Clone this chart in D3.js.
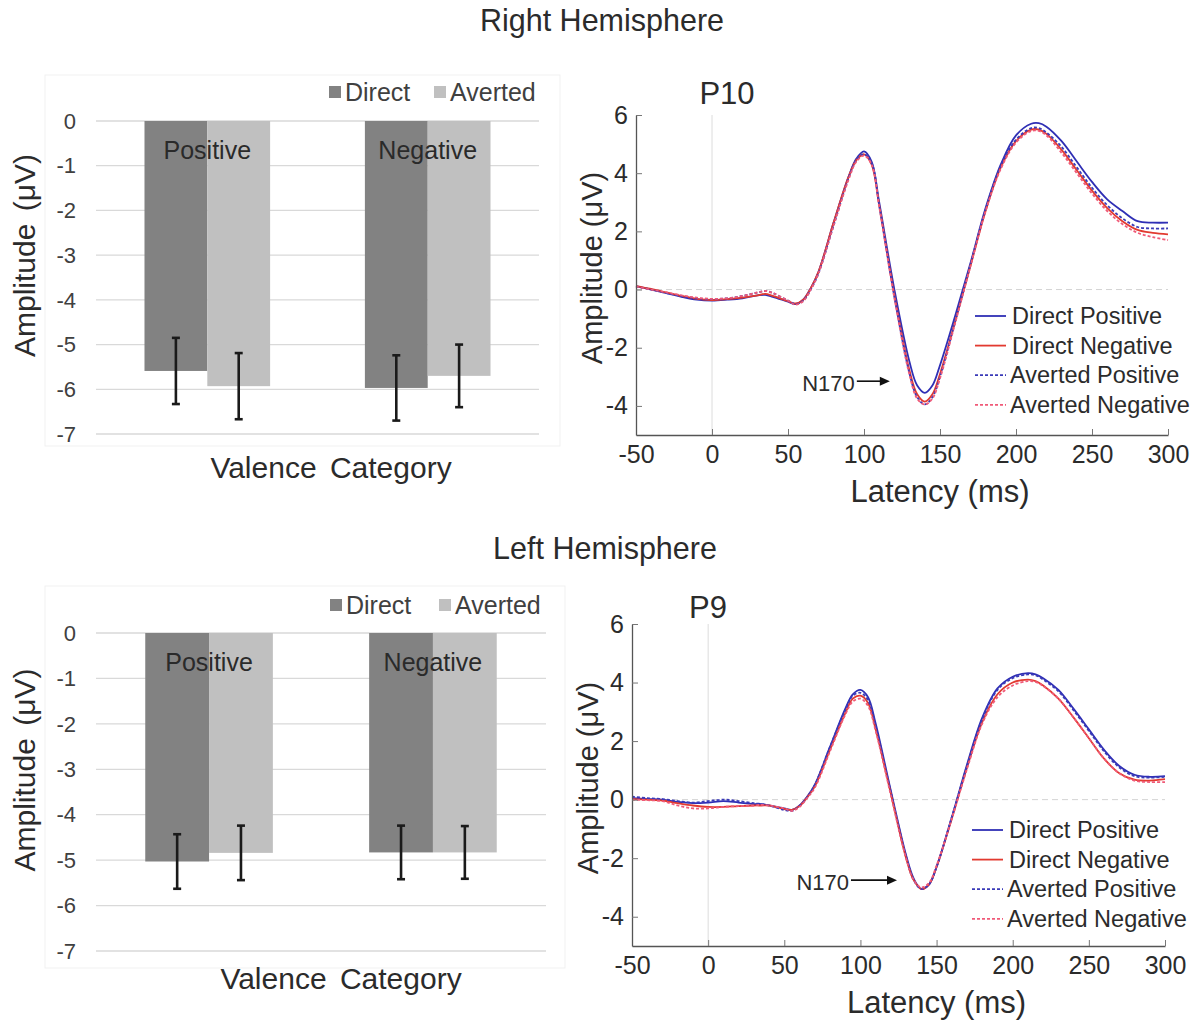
<!DOCTYPE html>
<html>
<head>
<meta charset="utf-8">
<script src="https://cdn.jsdelivr.net/npm/d3@7"></script>
<style>
  body { margin: 0; background: #fff; }
  svg text { font-family: "Liberation Sans", Arial, sans-serif; }
</style>
</head>
<body>
<svg id="fig" width="1204" height="1021"></svg>
<script>
////////////////////////////////////////////
// DATA
////////////////////////////////////////////

const valence = ["Positive", "Negative"];
const gaze = ["Direct", "Averted"];
const barTicks = [0, -1, -2, -3, -4, -5, -6, -7];

// right hemisphere (P10) mean amplitude per valence
const rightDirect = [-5.59, -5.97];
const rightAverted = [-5.93, -5.70];
const rightDirectErr = [0.74, 0.73];
const rightAvertedErr = [0.74, 0.70];

// left hemisphere (P9)
const leftDirect = [-5.03, -4.83];
const leftAverted = [-4.84, -4.83];
const leftDirectErr = [0.60, 0.59];
const leftAvertedErr = [0.60, 0.58];

// ERP waveforms
const latency = [-50,-40,-30,-20,-10,0,10,20,30,35,40,50,55,60,65,70,80,90,95,100,105,110,120,130,135,140,145,150,160,170,180,190,200,210,215,220,230,240,250,260,270,280,290,300];
const latencyTicks = [-50, 0, 50, 100, 150, 200, 250, 300];
const ampTicks = [-4, -2, 0, 2, 4, 6];
const seriesNames = ["Direct Positive", "Direct Negative", "Averted Positive", "Averted Negative"];

const p10DirectPos = [0.12,0.0,-0.12,-0.25,-0.35,-0.38,-0.35,-0.3,-0.2,-0.18,-0.25,-0.42,-0.5,-0.35,0.05,0.6,2.3,3.9,4.5,4.75,4.4,3.0,0.0,-2.5,-3.3,-3.55,-3.3,-2.6,-0.9,0.9,2.8,4.3,5.3,5.7,5.72,5.6,5.1,4.4,3.7,3.1,2.7,2.35,2.3,2.3];
const p10DirectNeg = [0.12,0.02,-0.1,-0.22,-0.32,-0.36,-0.33,-0.28,-0.2,-0.15,-0.22,-0.4,-0.48,-0.35,0.05,0.6,2.3,3.9,4.45,4.65,4.3,2.9,-0.2,-2.8,-3.6,-3.85,-3.6,-2.9,-1.1,0.8,2.7,4.2,5.1,5.5,5.5,5.35,4.8,4.1,3.4,2.8,2.35,2.05,1.95,1.9];
const p10AvertedPos = [0.1,0.0,-0.12,-0.22,-0.3,-0.33,-0.3,-0.22,-0.1,-0.05,-0.12,-0.38,-0.5,-0.38,0.0,0.55,2.2,3.85,4.45,4.65,4.35,2.9,-0.25,-2.9,-3.7,-3.95,-3.7,-3.0,-1.1,0.85,2.75,4.25,5.15,5.55,5.55,5.4,4.9,4.2,3.5,2.9,2.45,2.15,2.1,2.1];
const p10AvertedNeg = [0.1,0.0,-0.1,-0.2,-0.28,-0.32,-0.3,-0.22,-0.1,-0.05,-0.12,-0.38,-0.52,-0.4,0.0,0.55,2.2,3.8,4.4,4.6,4.3,2.85,-0.3,-2.95,-3.75,-3.95,-3.75,-3.05,-1.15,0.8,2.7,4.15,5.05,5.45,5.45,5.3,4.7,4.0,3.3,2.7,2.25,1.95,1.8,1.7];

const p9DirectPos = [0.05,0.02,0.0,-0.08,-0.12,-0.1,-0.05,-0.1,-0.15,-0.15,-0.2,-0.3,-0.35,-0.2,0.1,0.5,1.8,3.1,3.6,3.75,3.5,2.6,0.3,-1.9,-2.7,-3.05,-2.9,-2.3,-0.6,1.2,2.8,3.8,4.2,4.32,4.28,4.15,3.75,3.1,2.4,1.7,1.15,0.85,0.78,0.8];
const p9DirectNeg = [0.02,0.0,-0.03,-0.12,-0.2,-0.25,-0.25,-0.22,-0.2,-0.2,-0.2,-0.32,-0.35,-0.22,0.08,0.45,1.7,2.95,3.45,3.55,3.3,2.4,0.2,-2.0,-2.75,-3.05,-2.9,-2.3,-0.65,1.1,2.65,3.6,4.0,4.1,4.05,3.9,3.45,2.8,2.1,1.4,0.9,0.68,0.65,0.7];
const p9AvertedPos = [0.1,0.05,0.02,-0.05,-0.1,-0.05,0.0,-0.05,-0.12,-0.15,-0.2,-0.35,-0.38,-0.22,0.08,0.5,1.8,3.05,3.55,3.65,3.4,2.5,0.25,-1.95,-2.75,-3.05,-2.9,-2.3,-0.6,1.15,2.75,3.75,4.15,4.28,4.25,4.1,3.7,3.05,2.35,1.65,1.1,0.8,0.75,0.78];
const p9AvertedNeg = [0.0,-0.02,-0.05,-0.2,-0.3,-0.3,-0.25,-0.22,-0.2,-0.18,-0.2,-0.3,-0.38,-0.25,0.05,0.4,1.65,2.9,3.35,3.45,3.2,2.35,0.15,-2.0,-2.75,-3.0,-2.85,-2.25,-0.65,1.05,2.6,3.5,3.9,4.05,4.02,3.88,3.45,2.8,2.1,1.4,0.9,0.65,0.6,0.6];

// N170 arrow tip (latency, amplitude)
const p10Arrow = [117, -3.15];
const p9Arrow = [124, -2.75];

////////////////////////////////////////////
// STYLES
////////////////////////////////////////////

const barColors = {Direct: "#828282", Averted: "#c0c0c0"};
const lineStyles = [
  {col: "#2f2fb5", dash: null},
  {col: "#e23a30", dash: null},
  {col: "#3a3ab8", dash: "3,2"},
  {col: "#f05a78", dash: "3,2"}
];
const textCol = "#2b2b2b";

const svg = d3.select("#fig");

////////////////////////////////////////////
// BAR CHARTS
////////////////////////////////////////////

function drawBars(o){
  const g = svg.append("g");
  const x = d3.scaleBand().domain(valence).range([o.x0, o.x1]).paddingInner(0.43).paddingOuter(0.22);
  const xi = d3.scaleBand().domain(gaze).range([0, x.bandwidth()]);
  const y = d3.scaleLinear().domain([0, -7]).range([o.y0, o.y1]);

  // faint frame
  g.append("rect")
    .attr("x", o.frame[0]).attr("y", o.frame[1])
    .attr("width", o.frame[2]).attr("height", o.frame[3])
    .attr("fill", "none").attr("stroke", "#f1f1f1");

  g.selectAll("line.grid").data(barTicks).join("line")
    .attr("class", "grid")
    .attr("x1", o.x0).attr("x2", o.x1)
    .attr("y1", d => y(d)).attr("y2", d => y(d))
    .attr("stroke", "#d9d9d9").attr("stroke-width", 1.3);

  g.selectAll("text.tick").data(barTicks).join("text")
    .attr("class", "tick")
    .attr("x", o.x0 - 20).attr("y", d => y(d))
    .attr("dy", "0.35em").attr("text-anchor", "end")
    .attr("font-size", 22).attr("fill", "#404040")
    .text(d => d);

  const rows = [];
  valence.forEach((v, i) => {
    rows.push({v: v, k: "Direct", val: o.direct[i], err: o.directErr[i]});
    rows.push({v: v, k: "Averted", val: o.averted[i], err: o.avertedErr[i]});
  });

  g.selectAll("rect.bar").data(rows).join("rect")
    .attr("class", "bar")
    .attr("x", d => x(d.v) + xi(d.k))
    .attr("width", xi.bandwidth())
    .attr("y", y(0))
    .attr("height", d => y(d.val) - y(0))
    .attr("fill", d => barColors[d.k]);

  // error bars
  const eb = g.selectAll("g.err").data(rows).join("g").attr("class", "err")
    .attr("stroke", "#1a1a1a").attr("stroke-width", 2.6);
  eb.append("line")
    .attr("x1", d => x(d.v) + xi(d.k) + xi.bandwidth() / 2)
    .attr("x2", d => x(d.v) + xi(d.k) + xi.bandwidth() / 2)
    .attr("y1", d => y(d.val + d.err)).attr("y2", d => y(d.val - d.err));
  [1, -1].forEach(s => {
    eb.append("line")
      .attr("x1", d => x(d.v) + xi(d.k) + xi.bandwidth() / 2 - 4)
      .attr("x2", d => x(d.v) + xi(d.k) + xi.bandwidth() / 2 + 4)
      .attr("y1", d => y(d.val + s * d.err)).attr("y2", d => y(d.val + s * d.err));
  });

  // category labels inside bars
  g.selectAll("text.cat").data(valence).join("text")
    .attr("class", "cat")
    .attr("x", d => x(d) + x.bandwidth() / 2)
    .attr("y", y(-0.65))
    .attr("dy", "0.35em").attr("text-anchor", "middle")
    .attr("font-size", 25).attr("fill", "#2a2a2a")
    .text(d => d);

  // legend
  const lg = g.selectAll("g.leg").data(gaze).join("g").attr("class", "leg")
    .attr("transform", (d, i) => `translate(${o.legX[i]},${o.legY})`);
  lg.append("rect").attr("x", 0).attr("y", -6).attr("width", 12).attr("height", 12)
    .attr("fill", d => barColors[d]);
  lg.append("text").attr("x", 16).attr("dy", "0.35em")
    .attr("font-size", 25).attr("fill", "#404040").text(d => d);

  g.append("text")
    .attr("transform", `translate(${o.yTitleX},${(o.y0 + o.y1) / 2 - 22}) rotate(-90)`)
    .attr("text-anchor", "middle").attr("dy", "0.35em")
    .attr("font-size", 30).attr("word-spacing", 4).attr("fill", textCol)
    .text("Amplitude (μV)");

  g.append("text")
    .attr("x", o.xTitle[0]).attr("y", o.xTitle[1])
    .attr("text-anchor", "middle").attr("dy", "0.35em")
    .attr("font-size", 30).attr("word-spacing", 5).attr("fill", textCol)
    .text("Valence Category");
}

drawBars({
  x0: 96, x1: 539, y0: 121, y1: 434,
  direct: rightDirect, averted: rightAverted,
  directErr: rightDirectErr, avertedErr: rightAvertedErr,
  frame: [45, 75, 515, 371],
  legX: [329, 434], legY: 92,
  yTitleX: 24, xTitle: [331, 467]
});

drawBars({
  x0: 96, x1: 546, y0: 633, y1: 951,
  direct: leftDirect, averted: leftAverted,
  directErr: leftDirectErr, avertedErr: leftAvertedErr,
  frame: [45, 586, 520, 382],
  legX: [330, 439], legY: 605,
  yTitleX: 24, xTitle: [341, 978]
});

////////////////////////////////////////////
// ERP PLOTS
////////////////////////////////////////////

function drawErp(o){
  const g = svg.append("g");
  const x = d3.scaleLinear().domain([-50, 300]).range([o.x0, o.x1]);
  const y = d3.scaleLinear().domain([-5, 6]).range([o.y0, o.y1]);

  // reference lines
  g.append("line")
    .attr("x1", x(0)).attr("x2", x(0)).attr("y1", y(-5)).attr("y2", y(6))
    .attr("stroke", "#dcdcdc").attr("stroke-width", 1);
  g.append("line")
    .attr("x1", x(-50)).attr("x2", x(300)).attr("y1", y(0)).attr("y2", y(0))
    .attr("stroke", "#d4d4d4").attr("stroke-width", 1).attr("stroke-dasharray", "6,4");

  const line = d3.line()
    .x((d, i) => x(latency[i]))
    .y(d => y(d))
    .curve(d3.curveCatmullRom.alpha(0.5));

  g.selectAll("path.erp").data(o.series).join("path")
    .attr("class", "erp")
    .attr("d", d => line(d))
    .attr("fill", "none")
    .attr("stroke", (d, i) => lineStyles[i].col)
    .attr("stroke-width", 1.8)
    .attr("stroke-dasharray", (d, i) => lineStyles[i].dash);

  // axes, plain hyphen minus like the source figure
  const fmt = d => String(d);
  const xAxis = d3.axisBottom(x).tickValues(latencyTicks).tickFormat(fmt).tickSizeInner(-6).tickSizeOuter(0).tickPadding(10);
  const yAxis = d3.axisLeft(y).tickValues(ampTicks).tickFormat(fmt).tickSizeInner(-6).tickSizeOuter(0).tickPadding(8);

  const gx = g.append("g").attr("transform", `translate(0,${o.y0})`).call(xAxis);
  const gy = g.append("g").attr("transform", `translate(${o.x0},0)`).call(yAxis);
  [gx, gy].forEach(a => {
    a.select(".domain").attr("stroke", "#555").attr("stroke-width", 1.3);
    a.selectAll(".tick line").attr("stroke", "#777");
    a.selectAll(".tick text").attr("font-size", 25).attr("fill", textCol)
      .attr("font-family", "Liberation Sans, Arial, sans-serif");
  });

  g.append("text")
    .attr("x", o.label[0]).attr("y", o.label[1]).attr("dy", "0.35em")
    .attr("text-anchor", "middle").attr("font-size", 31).attr("fill", textCol)
    .text(o.name);

  g.append("text")
    .attr("transform", `translate(${o.x0 - 44},${(o.y0 + o.y1) / 2 - 7}) rotate(-90)`)
    .attr("text-anchor", "middle").attr("dy", "0.35em")
    .attr("font-size", 29).attr("fill", textCol)
    .text("Amplitude (μV)");

  g.append("text")
    .attr("x", (o.x0 + o.x1) / 2 + 38).attr("y", o.y0 + 56)
    .attr("text-anchor", "middle").attr("dy", "0.35em")
    .attr("font-size", 31).attr("fill", textCol)
    .text("Latency (ms)");

  // legend
  const lg = g.selectAll("g.leg").data(seriesNames).join("g").attr("class", "leg")
    .attr("transform", (d, i) => `translate(${o.legX},${o.legY + i * 29.6})`);
  lg.append("line").attr("x1", 0).attr("x2", 31)
    .attr("stroke", (d, i) => lineStyles[i].col)
    .attr("stroke-width", 1.8)
    .attr("stroke-dasharray", (d, i) => lineStyles[i].dash);
  lg.append("text").attr("x", (d, i) => i < 2 ? 37 : 35).attr("dy", "0.35em")
    .attr("font-size", 23.5).attr("fill", textCol).text(d => d);

  // N170 annotation
  const ax = x(o.arrow[0]), ay = y(o.arrow[1]);
  g.append("text")
    .attr("x", ax - o.arrowLen - 2).attr("y", ay + 2).attr("dy", "0.35em")
    .attr("text-anchor", "end").attr("font-size", 22).attr("fill", textCol)
    .text("N170");
  g.append("line")
    .attr("x1", ax - o.arrowLen).attr("x2", ax - 8).attr("y1", ay).attr("y2", ay)
    .attr("stroke", "#111").attr("stroke-width", 1.6);
  g.append("path")
    .attr("d", `M${ax},${ay} L${ax - 10},${ay - 4.5} L${ax - 10},${ay + 4.5} Z`)
    .attr("fill", "#111");
}

drawErp({
  x0: 636, x1: 1168, y0: 435, y1: 115,
  series: [p10DirectPos, p10DirectNeg, p10AvertedPos, p10AvertedNeg],
  name: "P10", label: [727, 93],
  legX: 975, legY: 316,
  arrow: p10Arrow, arrowLen: 33
});

drawErp({
  x0: 632, x1: 1165, y0: 946, y1: 624,
  series: [p9DirectPos, p9DirectNeg, p9AvertedPos, p9AvertedNeg],
  name: "P9", label: [708, 607],
  legX: 972, legY: 830,
  arrow: p9Arrow, arrowLen: 46
});

////////////////////////////////////////////
// TITLES
////////////////////////////////////////////

svg.append("text")
  .attr("x", 602).attr("y", 20).attr("dy", "0.35em")
  .attr("text-anchor", "middle").attr("font-size", 30.5).attr("fill", textCol)
  .text("Right Hemisphere");

svg.append("text")
  .attr("x", 605).attr("y", 548).attr("dy", "0.35em")
  .attr("text-anchor", "middle").attr("font-size", 30.5).attr("fill", textCol)
  .text("Left Hemisphere");
</script>
</body>
</html>
